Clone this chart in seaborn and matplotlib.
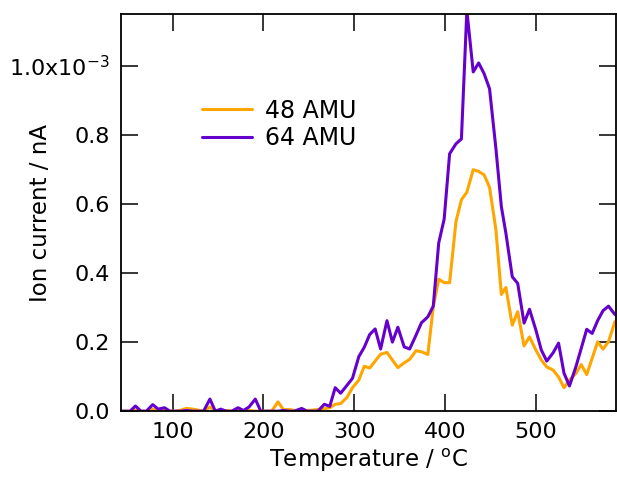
import numpy as np
import pandas as pd
import seaborn as sns
import matplotlib
matplotlib.use("Agg")
import matplotlib.pyplot as plt

# temperature (deg C)
temperature = [40, 46, 53, 59, 65, 71, 78, 84, 91, 97, 103, 109, 115, 122, 128, 134,
               141, 147, 153, 159, 165, 172, 178, 184, 191, 197, 203, 209, 216, 222,
               228, 234, 242, 248, 254, 260, 267, 273, 279, 285, 292, 298, 305, 311,
               317, 323, 329, 336, 342, 348, 355, 361, 368, 374, 381, 387, 393, 399,
               405, 412, 418, 424, 431, 437, 443, 449, 456, 462, 467, 474, 480, 487,
               493, 500, 506, 512, 519, 525, 531, 537, 544, 550, 556, 562, 568, 574,
               580, 587]

# ion current in units of 1e-3 nA
amu48 = [0, 0, 0, 0.003, 0, 0, 0.006, 0, 0.003, 0, 0, 0.003, 0.008, 0.006, 0.003, 0,
         0.012, 0, 0, 0.002, 0, 0.003, 0, 0.002, 0, 0, 0, 0, 0.027, 0.004,
         0.005, 0.002, 0.003, 0.002, 0.003, 0.005, 0.007, 0.010, 0.020, 0.022, 0.040, 0.068, 0.090, 0.130,
         0.125, 0.145, 0.165, 0.170, 0.148, 0.126, 0.140, 0.150, 0.175, 0.172, 0.164, 0.302, 0.382, 0.372,
         0.372, 0.549, 0.612, 0.634, 0.699, 0.694, 0.684, 0.648, 0.525, 0.338, 0.358, 0.249, 0.288, 0.189,
         0.215, 0.177, 0.148, 0.128, 0.119, 0.099, 0.068, 0.090, 0.109, 0.135, 0.106, 0.153, 0.201, 0.180,
         0.201, 0.259]

amu64 = [0, 0, 0, 0.015, 0, 0, 0.019, 0.006, 0.010, 0, 0, 0, 0.002, 0, 0, 0,
         0.035, 0, 0.006, 0, 0, 0.010, 0.002, 0.012, 0.035, 0, 0, 0, 0, 0.002,
         0, 0, 0.008, 0, 0, 0, 0.020, 0.014, 0.068, 0.052, 0.075, 0.095, 0.158, 0.185,
         0.222, 0.238, 0.180, 0.262, 0.200, 0.243, 0.186, 0.180, 0.220, 0.256, 0.273, 0.304, 0.487, 0.556,
         0.745, 0.774, 0.788, 1.16, 0.982, 1.008, 0.977, 0.933, 0.760, 0.592, 0.515, 0.389, 0.370, 0.255,
         0.295, 0.235, 0.177, 0.145, 0.169, 0.197, 0.110, 0.073, 0.128, 0.182, 0.237, 0.225, 0.262, 0.291,
         0.304, 0.280]

series = ["48 AMU", "64 AMU"]
colors = ["#FFA500", "#6600CC"]

df = pd.DataFrame({
    "T": temperature * 2,
    "I": amu48 + amu64,
    "mass": [series[0]] * len(temperature) + [series[1]] * len(temperature),
})

sns.set_style("ticks")
plt.rcParams["font.family"] = ["DejaVu Sans"]
plt.rcParams["text.color"] = "black"
plt.rcParams["axes.labelcolor"] = "black"

fig = plt.figure(figsize=(6.17, 4.96), dpi=100)
ax = fig.add_axes([0.196, 0.171, 0.802, 0.801])

sns.lineplot(data=df, x="T", y="I", hue="mass", palette=colors, linewidth=2.2,
             ax=ax, sort=False)

ax.set_xlim(43, 588)
ax.set_ylim(0, 1.15)
ax.set_xticks([100, 200, 300, 400, 500])
ax.set_yticks([0, 0.2, 0.4, 0.6, 0.8, 1.0])
ax.set_yticklabels(["0.0", "0.2", "0.4", "0.6", "0.8", "1.0x10$^{-3}$"])
ax.tick_params(direction="in", top=True, right=True, length=12.5, width=1.1,
               labelsize=16, pad=8, colors="black")
for s in ax.spines.values():
    s.set_linewidth(1.3)
    s.set_color("black")

ax.set_xlabel("Temperature / $^{\\rm o}$C", fontsize=16.5, labelpad=3)
ax.set_ylabel("Ion current / nA", fontsize=16.5)
ax.yaxis.set_label_coords(-0.14, 0.5)

ax.legend(frameon=False, fontsize=17, loc="upper left", bbox_to_anchor=(0.12, 0.84),
          handlelength=2.15, handletextpad=0.55, labelspacing=0.15)

fig.savefig("out.png", dpi=100)
